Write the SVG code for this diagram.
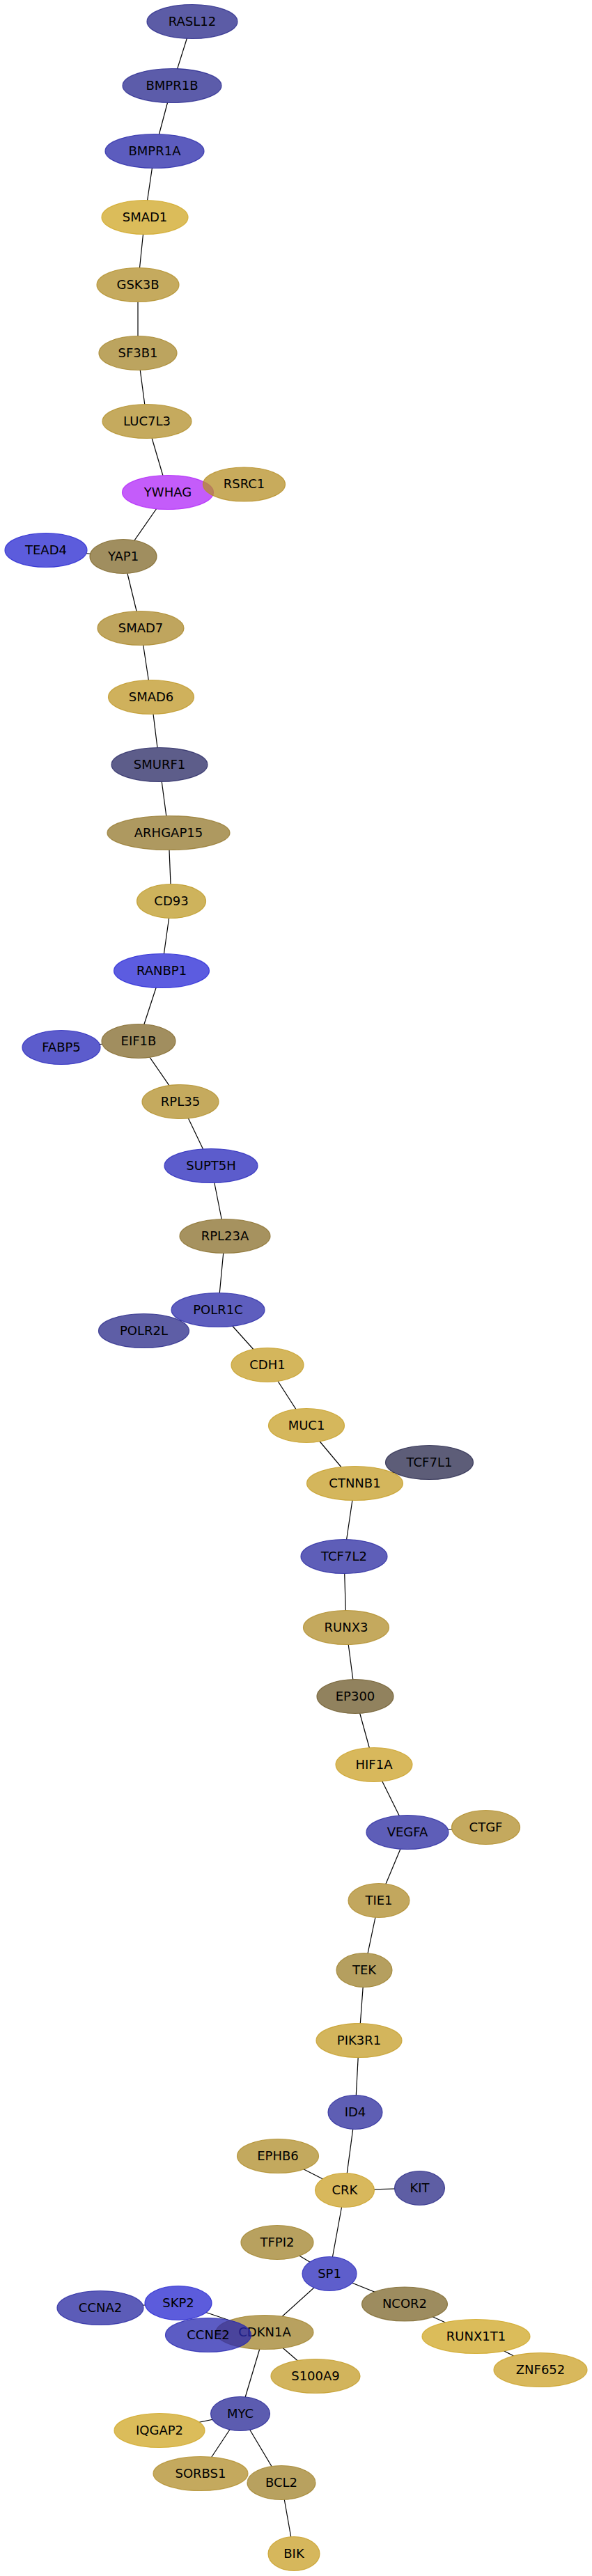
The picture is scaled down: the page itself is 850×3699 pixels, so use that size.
<svg xmlns="http://www.w3.org/2000/svg" width="850" height="3699" viewBox="0 0 850 3699">
<style>
.n ellipse{fill:currentColor;stroke:currentColor;fill-opacity:.75;stroke-opacity:.8;stroke-width:1.2}
.n text{font-family:"DejaVu Sans","Liberation Sans",sans-serif;font-size:18px;fill:#000;text-anchor:middle}
#edges line{stroke:#000;stroke-width:1.2}
</style>
<defs>
<mask id="m" maskUnits="userSpaceOnUse" x="0" y="0" width="850" height="3699">
<rect x="0" y="0" width="850" height="3699" fill="#fff"/>
<g fill="#000">
<ellipse cx="276" cy="31" rx="65" ry="24.5"/>
<ellipse cx="247" cy="123" rx="71" ry="24.5"/>
<ellipse cx="222" cy="217" rx="71" ry="24.5"/>
<ellipse cx="208" cy="312" rx="62" ry="24.5"/>
<ellipse cx="198" cy="409" rx="59" ry="24.5"/>
<ellipse cx="198" cy="507" rx="56" ry="24.5"/>
<ellipse cx="211" cy="605" rx="64" ry="24.5"/>
<ellipse cx="241" cy="707" rx="65.5" ry="24.5"/>
<ellipse cx="350.5" cy="695.5" rx="59" ry="24.5"/>
<ellipse cx="66" cy="790" rx="59" ry="24.5"/>
<ellipse cx="177" cy="799" rx="48" ry="24.5"/>
<ellipse cx="202" cy="902" rx="62" ry="24.5"/>
<ellipse cx="217" cy="1001" rx="61.5" ry="24.5"/>
<ellipse cx="229" cy="1098" rx="69" ry="24.5"/>
<ellipse cx="242" cy="1196" rx="88" ry="24.5"/>
<ellipse cx="246" cy="1294" rx="49.5" ry="24.5"/>
<ellipse cx="232" cy="1394" rx="68.5" ry="24.5"/>
<ellipse cx="199" cy="1495" rx="53" ry="24.5"/>
<ellipse cx="88" cy="1504" rx="56" ry="24.5"/>
<ellipse cx="259" cy="1582" rx="55" ry="24.5"/>
<ellipse cx="303" cy="1674" rx="67" ry="24.5"/>
<ellipse cx="323" cy="1775" rx="65" ry="24.5"/>
<ellipse cx="313" cy="1881" rx="67" ry="24.5"/>
<ellipse cx="206.5" cy="1911" rx="65" ry="24.5"/>
<ellipse cx="384" cy="1960" rx="52" ry="24.5"/>
<ellipse cx="440" cy="2047" rx="54.5" ry="24.5"/>
<ellipse cx="616.5" cy="2100" rx="63" ry="24.5"/>
<ellipse cx="509.5" cy="2130" rx="69" ry="24.5"/>
<ellipse cx="494" cy="2235" rx="62" ry="24.5"/>
<ellipse cx="497" cy="2337" rx="61.5" ry="24.5"/>
<ellipse cx="510" cy="2436" rx="55" ry="24.5"/>
<ellipse cx="537" cy="2534" rx="55" ry="24.5"/>
<ellipse cx="585" cy="2631" rx="59" ry="24.5"/>
<ellipse cx="697.5" cy="2624" rx="49" ry="24.5"/>
<ellipse cx="544" cy="2729" rx="44" ry="24.5"/>
<ellipse cx="523" cy="2829" rx="40" ry="24.5"/>
<ellipse cx="515.5" cy="2930" rx="61.5" ry="24.5"/>
<ellipse cx="510" cy="3033" rx="39" ry="24.5"/>
<ellipse cx="399" cy="3096" rx="58.5" ry="24.5"/>
<ellipse cx="495" cy="3145" rx="42.5" ry="24.5"/>
<ellipse cx="602.5" cy="3142" rx="36" ry="24.5"/>
<ellipse cx="398" cy="3220" rx="52" ry="24.5"/>
<ellipse cx="473" cy="3265" rx="39" ry="24.5"/>
<ellipse cx="144" cy="3314" rx="62" ry="24.5"/>
<ellipse cx="256" cy="3307" rx="48" ry="24.5"/>
<ellipse cx="581" cy="3308.5" rx="61.5" ry="24.5"/>
<ellipse cx="380" cy="3349" rx="70" ry="24.5"/>
<ellipse cx="299" cy="3353" rx="61.5" ry="24.5"/>
<ellipse cx="683.5" cy="3355" rx="77.5" ry="24.5"/>
<ellipse cx="453" cy="3412" rx="64" ry="24.5"/>
<ellipse cx="776" cy="3403" rx="67" ry="24.5"/>
<ellipse cx="345" cy="3466" rx="42.5" ry="24.5"/>
<ellipse cx="229" cy="3490" rx="65" ry="24.5"/>
<ellipse cx="288" cy="3552" rx="68" ry="24.5"/>
<ellipse cx="404" cy="3565" rx="49" ry="24.5"/>
<ellipse cx="422" cy="3667" rx="37" ry="24.5"/>
</g>
</mask>
</defs>
<rect x="0" y="0" width="850" height="3699" fill="#fff"/>
<g id="edges" mask="url(#m)">
<line x1="276" y1="31" x2="247" y2="123"/>
<line x1="247" y1="123" x2="222" y2="217"/>
<line x1="222" y1="217" x2="208" y2="312"/>
<line x1="208" y1="312" x2="198" y2="409"/>
<line x1="198" y1="409" x2="198" y2="507"/>
<line x1="198" y1="507" x2="211" y2="605"/>
<line x1="211" y1="605" x2="241" y2="707"/>
<line x1="241" y1="707" x2="350.5" y2="695.5"/>
<line x1="241" y1="707" x2="177" y2="799"/>
<line x1="177" y1="799" x2="66" y2="790"/>
<line x1="177" y1="799" x2="202" y2="902"/>
<line x1="202" y1="902" x2="217" y2="1001"/>
<line x1="217" y1="1001" x2="229" y2="1098"/>
<line x1="229" y1="1098" x2="242" y2="1196"/>
<line x1="242" y1="1196" x2="246" y2="1294"/>
<line x1="246" y1="1294" x2="232" y2="1394"/>
<line x1="232" y1="1394" x2="199" y2="1495"/>
<line x1="199" y1="1495" x2="88" y2="1504"/>
<line x1="199" y1="1495" x2="259" y2="1582"/>
<line x1="259" y1="1582" x2="303" y2="1674"/>
<line x1="303" y1="1674" x2="323" y2="1775"/>
<line x1="323" y1="1775" x2="313" y2="1881"/>
<line x1="313" y1="1881" x2="206.5" y2="1911"/>
<line x1="313" y1="1881" x2="384" y2="1960"/>
<line x1="384" y1="1960" x2="440" y2="2047"/>
<line x1="440" y1="2047" x2="509.5" y2="2130"/>
<line x1="509.5" y1="2130" x2="616.5" y2="2100"/>
<line x1="509.5" y1="2130" x2="494" y2="2235"/>
<line x1="494" y1="2235" x2="497" y2="2337"/>
<line x1="497" y1="2337" x2="510" y2="2436"/>
<line x1="510" y1="2436" x2="537" y2="2534"/>
<line x1="537" y1="2534" x2="585" y2="2631"/>
<line x1="585" y1="2631" x2="697.5" y2="2624"/>
<line x1="585" y1="2631" x2="544" y2="2729"/>
<line x1="544" y1="2729" x2="523" y2="2829"/>
<line x1="523" y1="2829" x2="515.5" y2="2930"/>
<line x1="515.5" y1="2930" x2="510" y2="3033"/>
<line x1="510" y1="3033" x2="495" y2="3145"/>
<line x1="495" y1="3145" x2="399" y2="3096"/>
<line x1="495" y1="3145" x2="602.5" y2="3142"/>
<line x1="495" y1="3145" x2="473" y2="3265"/>
<line x1="473" y1="3265" x2="398" y2="3220"/>
<line x1="473" y1="3265" x2="581" y2="3308.5"/>
<line x1="473" y1="3265" x2="380" y2="3349"/>
<line x1="581" y1="3308.5" x2="683.5" y2="3355"/>
<line x1="683.5" y1="3355" x2="776" y2="3403"/>
<line x1="256" y1="3307" x2="144" y2="3314"/>
<line x1="256" y1="3307" x2="380" y2="3349"/>
<line x1="380" y1="3349" x2="299" y2="3353"/>
<line x1="380" y1="3349" x2="453" y2="3412"/>
<line x1="380" y1="3349" x2="345" y2="3466"/>
<line x1="345" y1="3466" x2="229" y2="3490"/>
<line x1="345" y1="3466" x2="288" y2="3552"/>
<line x1="345" y1="3466" x2="404" y2="3565"/>
<line x1="404" y1="3565" x2="422" y2="3667"/>
</g>
<g id="RASL12" class="n"><ellipse color="#262688" cx="276" cy="31" rx="65" ry="24.5"/><text x="276" y="36.5">RASL12</text></g>
<g id="BMPR1B" class="n"><ellipse color="#26268e" cx="247" cy="123" rx="71" ry="24.5"/><text x="247" y="128.5">BMPR1B</text></g>
<g id="BMPR1A" class="n"><ellipse color="#2626a8" cx="222" cy="217" rx="71" ry="24.5"/><text x="222" y="222.5">BMPR1A</text></g>
<g id="SMAD1" class="n"><ellipse color="#cfa623" cx="208" cy="312" rx="62" ry="24.5"/><text x="208" y="317.5">SMAD1</text></g>
<g id="GSK3B" class="n"><ellipse color="#b28e28" cx="198" cy="409" rx="59" ry="24.5"/><text x="198" y="414.5">GSK3B</text></g>
<g id="SF3B1" class="n"><ellipse color="#a6862a" cx="198" cy="507" rx="56" ry="24.5"/><text x="198" y="512.5">SF3B1</text></g>
<g id="LUC7L3" class="n"><ellipse color="#b28e28" cx="211" cy="605" rx="64" ry="24.5"/><text x="211" y="610.5">LUC7L3</text></g>
<g id="YWHAG" class="n"><ellipse color="#b026f8" cx="241" cy="707" rx="65.5" ry="24.5"/><text x="241" y="712.5">YWHAG</text></g>
<g id="RSRC1" class="n"><ellipse color="#b68f26" cx="350.5" cy="695.5" rx="59" ry="24.5"/><text x="350.5" y="701">RSRC1</text></g>
<g id="TEAD4" class="n"><ellipse color="#2626d0" cx="66" cy="790" rx="59" ry="24.5"/><text x="66" y="795.5">TEAD4</text></g>
<g id="YAP1" class="n"><ellipse color="#80682a" cx="177" cy="799" rx="48" ry="24.5"/><text x="177" y="804.5">YAP1</text></g>
<g id="SMAD7" class="n"><ellipse color="#aa8728" cx="202" cy="902" rx="62" ry="24.5"/><text x="202" y="907.5">SMAD7</text></g>
<g id="SMAD6" class="n"><ellipse color="#bf9726" cx="217" cy="1001" rx="61.5" ry="24.5"/><text x="217" y="1006.5">SMAD6</text></g>
<g id="SMURF1" class="n"><ellipse color="#272763" cx="229" cy="1098" rx="69" ry="24.5"/><text x="229" y="1103.5">SMURF1</text></g>
<g id="ARHGAP15" class="n"><ellipse color="#93772b" cx="242" cy="1196" rx="88" ry="24.5"/><text x="242" y="1201.5">ARHGAP15</text></g>
<g id="CD93" class="n"><ellipse color="#be9a26" cx="246" cy="1294" rx="49.5" ry="24.5"/><text x="246" y="1299.5">CD93</text></g>
<g id="RANBP1" class="n"><ellipse color="#2626d6" cx="232" cy="1394" rx="68.5" ry="24.5"/><text x="232" y="1399.5">RANBP1</text></g>
<g id="EIF1B" class="n"><ellipse color="#82682a" cx="199" cy="1495" rx="53" ry="24.5"/><text x="199" y="1500.5">EIF1B</text></g>
<g id="FABP5" class="n"><ellipse color="#2626bb" cx="88" cy="1504" rx="56" ry="24.5"/><text x="88" y="1509.5">FABP5</text></g>
<g id="RPL35" class="n"><ellipse color="#b28e28" cx="259" cy="1582" rx="55" ry="24.5"/><text x="259" y="1587.5">RPL35</text></g>
<g id="SUPT5H" class="n"><ellipse color="#2626bb" cx="303" cy="1674" rx="67" ry="24.5"/><text x="303" y="1679.5">SUPT5H</text></g>
<g id="RPL23A" class="n"><ellipse color="#886e2a" cx="323" cy="1775" rx="65" ry="24.5"/><text x="323" y="1780.5">RPL23A</text></g>
<g id="POLR2L" class="n"><ellipse color="#282888" cx="206.5" cy="1911" rx="65" ry="24.5"/><text x="206.5" y="1916.5">POLR2L</text></g>
<g id="POLR1C" class="n"><ellipse color="#2828a8" cx="313" cy="1881" rx="67" ry="24.5"/><text x="313" y="1886.5">POLR1C</text></g>
<g id="CDH1" class="n"><ellipse color="#c69e26" cx="384" cy="1960" rx="52" ry="24.5"/><text x="384" y="1965.5">CDH1</text></g>
<g id="MUC1" class="n"><ellipse color="#c79f26" cx="440" cy="2047" rx="54.5" ry="24.5"/><text x="440" y="2052.5">MUC1</text></g>
<g id="TCF7L1" class="n"><ellipse color="#27274b" cx="616.5" cy="2100" rx="63" ry="24.5"/><text x="616.5" y="2105.5">TCF7L1</text></g>
<g id="CTNNB1" class="n"><ellipse color="#c69e26" cx="509.5" cy="2130" rx="69" ry="24.5"/><text x="509.5" y="2135.5">CTNNB1</text></g>
<g id="TCF7L2" class="n"><ellipse color="#2828a0" cx="494" cy="2235" rx="62" ry="24.5"/><text x="494" y="2240.5">TCF7L2</text></g>
<g id="RUNX3" class="n"><ellipse color="#b08c28" cx="497" cy="2337" rx="61.5" ry="24.5"/><text x="497" y="2342.5">RUNX3</text></g>
<g id="EP300" class="n"><ellipse color="#6c5828" cx="510" cy="2436" rx="55" ry="24.5"/><text x="510" y="2441.5">EP300</text></g>
<g id="HIF1A" class="n"><ellipse color="#cba026" cx="537" cy="2534" rx="55" ry="24.5"/><text x="537" y="2539.5">HIF1A</text></g>
<g id="VEGFA" class="n"><ellipse color="#2828a0" cx="585" cy="2631" rx="59" ry="24.5"/><text x="585" y="2636.5">VEGFA</text></g>
<g id="CTGF" class="n"><ellipse color="#b08c28" cx="697.5" cy="2624" rx="49" ry="24.5"/><text x="697.5" y="2629.5">CTGF</text></g>
<g id="TIE1" class="n"><ellipse color="#ae8a28" cx="544" cy="2729" rx="44" ry="24.5"/><text x="544" y="2734.5">TIE1</text></g>
<g id="TEK" class="n"><ellipse color="#9c7f2a" cx="523" cy="2829" rx="40" ry="24.5"/><text x="523" y="2834.5">TEK</text></g>
<g id="PIK3R1" class="n"><ellipse color="#c49c26" cx="515.5" cy="2930" rx="61.5" ry="24.5"/><text x="515.5" y="2935.5">PIK3R1</text></g>
<g id="ID4" class="n"><ellipse color="#28289b" cx="510" cy="3033" rx="39" ry="24.5"/><text x="510" y="3038.5">ID4</text></g>
<g id="EPHB6" class="n"><ellipse color="#af8c28" cx="399" cy="3096" rx="58.5" ry="24.5"/><text x="399" y="3101.5">EPHB6</text></g>
<g id="CRK" class="n"><ellipse color="#cba026" cx="495" cy="3145" rx="42.5" ry="24.5"/><text x="495" y="3150.5">CRK</text></g>
<g id="KIT" class="n"><ellipse color="#282886" cx="602.5" cy="3142" rx="36" ry="24.5"/><text x="602.5" y="3147.5">KIT</text></g>
<g id="TFPI2" class="n"><ellipse color="#a0822a" cx="398" cy="3220" rx="52" ry="24.5"/><text x="398" y="3225.5">TFPI2</text></g>
<g id="SP1" class="n"><ellipse color="#2828bb" cx="473" cy="3265" rx="39" ry="24.5"/><text x="473" y="3270.5">SP1</text></g>
<g id="CCNA2" class="n"><ellipse color="#2626a0" cx="144" cy="3314" rx="62" ry="24.5"/><text x="144" y="3319.5">CCNA2</text></g>
<g id="SKP2" class="n"><ellipse color="#2626d0" cx="256" cy="3307" rx="48" ry="24.5"/><text x="256" y="3312.5">SKP2</text></g>
<g id="NCOR2" class="n"><ellipse color="#7c662a" cx="581" cy="3308.5" rx="61.5" ry="24.5"/><text x="581" y="3314">NCOR2</text></g>
<g id="CDKN1A" class="n"><ellipse color="#a0822a" cx="380" cy="3349" rx="70" ry="24.5"/><text x="380" y="3354.5">CDKN1A</text></g>
<g id="CCNE2" class="n"><ellipse color="#2626b0" cx="299" cy="3353" rx="61.5" ry="24.5"/><text x="299" y="3358.5">CCNE2</text></g>
<g id="RUNX1T1" class="n"><ellipse color="#cfa623" cx="683.5" cy="3355" rx="77.5" ry="24.5"/><text x="683.5" y="3360.5">RUNX1T1</text></g>
<g id="S100A9" class="n"><ellipse color="#c39b26" cx="453" cy="3412" rx="64" ry="24.5"/><text x="453" y="3417.5">S100A9</text></g>
<g id="ZNF652" class="n"><ellipse color="#cba026" cx="776" cy="3403" rx="67" ry="24.5"/><text x="776" y="3408.5">ZNF652</text></g>
<g id="MYC" class="n"><ellipse color="#262696" cx="345" cy="3466" rx="42.5" ry="24.5"/><text x="345" y="3471.5">MYC</text></g>
<g id="IQGAP2" class="n"><ellipse color="#cfa623" cx="229" cy="3490" rx="65" ry="24.5"/><text x="229" y="3495.5">IQGAP2</text></g>
<g id="SORBS1" class="n"><ellipse color="#b08c28" cx="288" cy="3552" rx="68" ry="24.5"/><text x="288" y="3557.5">SORBS1</text></g>
<g id="BCL2" class="n"><ellipse color="#a0822a" cx="404" cy="3565" rx="49" ry="24.5"/><text x="404" y="3570.5">BCL2</text></g>
<g id="BIK" class="n"><ellipse color="#c89f26" cx="422" cy="3667" rx="37" ry="24.5"/><text x="422" y="3672.5">BIK</text></g>
</svg>
